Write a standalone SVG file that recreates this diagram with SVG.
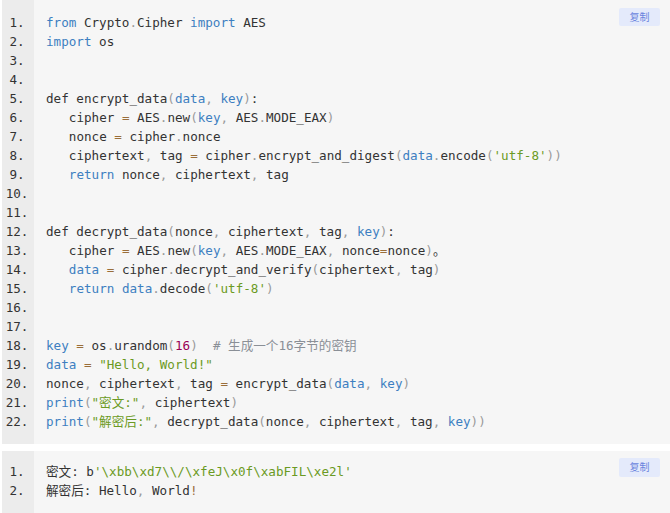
<svg xmlns="http://www.w3.org/2000/svg" width="670" height="513" viewBox="0 0 670 513">
<style>
.bg{fill:#f6f6f6}
.gut{fill:#ececec}
.t{font-family:"DejaVu Sans Mono","Noto Sans CJK SC",monospace;font-size:12.6px;fill:#333;white-space:pre}
.ln{text-anchor:middle}
.k{fill:#3d7fc1}
.p{fill:#9a9a9a}
.o{fill:#9a6e3a}
.s{fill:#6b9a23}
.n{fill:#990055}
.m{fill:#8a8f96}
.btn{fill:#e4eafb}
.bt{font-family:"Noto Sans CJK SC","Noto Sans",sans-serif;font-size:10px;fill:#6a84de;text-anchor:middle}
</style>
<rect width="670" height="513" fill="#ffffff"/>
<g id="code-block">
<rect class="bg" x="2" y="0" width="668" height="444"/>
<rect class="gut" x="2" y="0" width="32" height="444"/>
<g id="copy-button-1">
<rect class="btn" x="619" y="8" width="41" height="18" rx="2"/>
<text class="bt" x="639.5" y="21">复制</text>
</g>
<g id="line-numbers-1">
<text class="t ln" x="17" y="27">1.</text>
<text class="t ln" x="17" y="46">2.</text>
<text class="t ln" x="17" y="65">3.</text>
<text class="t ln" x="17" y="84">4.</text>
<text class="t ln" x="17" y="103">5.</text>
<text class="t ln" x="17" y="122">6.</text>
<text class="t ln" x="17" y="141">7.</text>
<text class="t ln" x="17" y="160">8.</text>
<text class="t ln" x="17" y="179">9.</text>
<text class="t ln" x="17" y="198">10.</text>
<text class="t ln" x="17" y="217">11.</text>
<text class="t ln" x="17" y="236">12.</text>
<text class="t ln" x="17" y="255">13.</text>
<text class="t ln" x="17" y="274">14.</text>
<text class="t ln" x="17" y="293">15.</text>
<text class="t ln" x="17" y="312">16.</text>
<text class="t ln" x="17" y="331">17.</text>
<text class="t ln" x="17" y="350">18.</text>
<text class="t ln" x="17" y="369">19.</text>
<text class="t ln" x="17" y="388">20.</text>
<text class="t ln" x="17" y="407">21.</text>
<text class="t ln" x="17" y="426">22.</text>
</g>
<g id="code-1">
<text class="t" x="46" y="27" xml:space="preserve"><tspan class="k">from</tspan> Crypto<tspan class="p">.</tspan>Cipher <tspan class="k">import</tspan> AES</text>
<text class="t" x="46" y="46" xml:space="preserve"><tspan class="k">import</tspan> os</text>
<text class="t" x="46" y="103" xml:space="preserve">def encrypt_data<tspan class="p">(</tspan><tspan class="k">data</tspan><tspan class="p">,</tspan> <tspan class="k">key</tspan><tspan class="p">)</tspan>:</text>
<text class="t" x="68.8" y="122" xml:space="preserve">cipher <tspan class="o">=</tspan> AES<tspan class="p">.</tspan>new<tspan class="p">(</tspan><tspan class="k">key</tspan><tspan class="p">,</tspan> AES<tspan class="p">.</tspan>MODE_EAX<tspan class="p">)</tspan></text>
<text class="t" x="68.8" y="141" xml:space="preserve">nonce <tspan class="o">=</tspan> cipher<tspan class="p">.</tspan>nonce</text>
<text class="t" x="68.8" y="160" xml:space="preserve">ciphertext<tspan class="p">,</tspan> tag <tspan class="o">=</tspan> cipher<tspan class="p">.</tspan>encrypt_and_digest<tspan class="p">(</tspan><tspan class="k">data</tspan><tspan class="p">.</tspan>encode<tspan class="p">(</tspan><tspan class="s">'utf-8'</tspan><tspan class="p">))</tspan></text>
<text class="t" x="68.8" y="179" xml:space="preserve"><tspan class="k">return</tspan> nonce<tspan class="p">,</tspan> ciphertext<tspan class="p">,</tspan> tag</text>
<text class="t" x="46" y="236" xml:space="preserve">def decrypt_data<tspan class="p">(</tspan>nonce<tspan class="p">,</tspan> ciphertext<tspan class="p">,</tspan> tag<tspan class="p">,</tspan> <tspan class="k">key</tspan><tspan class="p">)</tspan>:</text>
<text class="t" x="68.8" y="255" xml:space="preserve">cipher <tspan class="o">=</tspan> AES<tspan class="p">.</tspan>new<tspan class="p">(</tspan><tspan class="k">key</tspan><tspan class="p">,</tspan> AES<tspan class="p">.</tspan>MODE_EAX<tspan class="p">,</tspan> nonce<tspan class="o">=</tspan>nonce<tspan class="p">)</tspan>。</text>
<text class="t" x="68.8" y="274" xml:space="preserve"><tspan class="k">data</tspan> <tspan class="o">=</tspan> cipher<tspan class="p">.</tspan>decrypt_and_verify<tspan class="p">(</tspan>ciphertext<tspan class="p">,</tspan> tag<tspan class="p">)</tspan></text>
<text class="t" x="68.8" y="293" xml:space="preserve"><tspan class="k">return</tspan> <tspan class="k">data</tspan><tspan class="p">.</tspan>decode<tspan class="p">(</tspan><tspan class="s">'utf-8'</tspan><tspan class="p">)</tspan></text>
<text class="t" x="46" y="350" xml:space="preserve"><tspan class="k">key</tspan> <tspan class="o">=</tspan> os<tspan class="p">.</tspan>urandom<tspan class="p">(</tspan><tspan class="n">16</tspan><tspan class="p">)</tspan>  <tspan class="m"># 生成一个16字节的密钥</tspan></text>
<text class="t" x="46" y="369" xml:space="preserve"><tspan class="k">data</tspan> <tspan class="o">=</tspan> <tspan class="s">"Hello, World!"</tspan></text>
<text class="t" x="46" y="388" xml:space="preserve">nonce<tspan class="p">,</tspan> ciphertext<tspan class="p">,</tspan> tag <tspan class="o">=</tspan> encrypt_data<tspan class="p">(</tspan><tspan class="k">data</tspan><tspan class="p">,</tspan> <tspan class="k">key</tspan><tspan class="p">)</tspan></text>
<text class="t" x="46" y="407" xml:space="preserve"><tspan class="k">print</tspan><tspan class="p">(</tspan><tspan class="s">"密文:"</tspan><tspan class="p">,</tspan> ciphertext<tspan class="p">)</tspan></text>
<text class="t" x="46" y="426" xml:space="preserve"><tspan class="k">print</tspan><tspan class="p">(</tspan><tspan class="s">"解密后:"</tspan><tspan class="p">,</tspan> decrypt_data<tspan class="p">(</tspan>nonce<tspan class="p">,</tspan> ciphertext<tspan class="p">,</tspan> tag<tspan class="p">,</tspan> <tspan class="k">key</tspan><tspan class="p">))</tspan></text>
</g>
</g>
<g id="output-block">
<rect class="bg" x="2" y="451" width="668" height="62"/>
<rect class="gut" x="2" y="451" width="32" height="62"/>
<g id="copy-button-2">
<rect class="btn" x="619" y="458" width="41" height="19" rx="2"/>
<text class="bt" x="639.5" y="471">复制</text>
</g>
<g id="line-numbers-2">
<text class="t ln" x="17" y="476">1.</text>
<text class="t ln" x="17" y="495">2.</text>
</g>
<g id="output-2">
<text class="t" x="46" y="476" xml:space="preserve">密文: b<tspan class="s">'\xbb\xd7\\/\xfeJ\x0f\xabFIL\xe2l'</tspan></text>
<text class="t" x="46" y="495" xml:space="preserve">解密后: Hello<tspan class="p">,</tspan> World<tspan class="o">!</tspan></text>
</g>
</g>
</svg>
